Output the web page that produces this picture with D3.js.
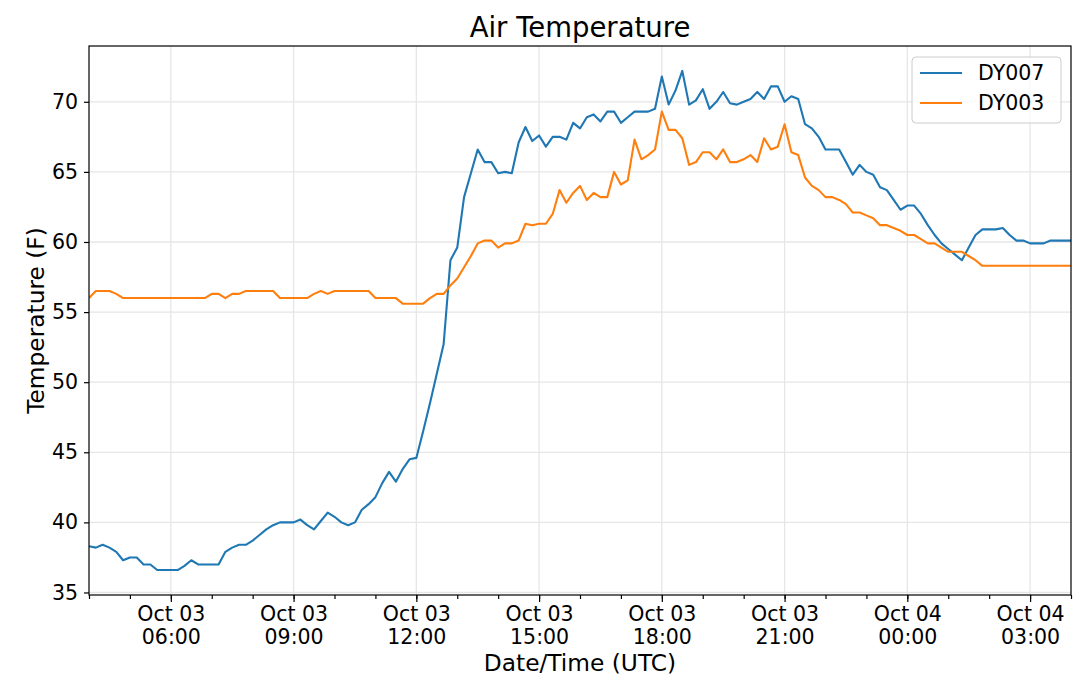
<!DOCTYPE html>
<html>
<head>
<meta charset="utf-8">
<script src="https://cdn.jsdelivr.net/npm/d3@7"></script>
<style>
  body { margin: 0; background: #fff; }
  text { font-family: "DejaVu Sans", sans-serif; fill: #000; }
</style>
</head>
<body>
<div id="chart"></div>
<script>
/* CONSTANTS AND GLOBALS */
const width = 1080,
  height = 694,
  margin = { top: 46, bottom: 99, left: 89, right: 9 };

// readings every 10 minutes, starting Oct 03 04:00 UTC
const startTime = new Date(Date.UTC(2019, 9, 3, 4, 0));
const stepMinutes = 10;

const seriesNames = ["DY007", "DY003"];
const seriesColors = ["#1f77b4", "#ff7f0e"];

const dy007 = [
  38.3, 38.2, 38.4, 38.2, 37.9, 37.3, 37.5, 37.5, 37.0, 37.0,
  36.6, 36.6, 36.6, 36.6, 36.9, 37.3, 37.0, 37.0, 37.0, 37.0,
  37.9, 38.2, 38.4, 38.4, 38.7, 39.1, 39.5, 39.8, 40.0, 40.0,
  40.0, 40.2, 39.8, 39.5, 40.1, 40.7, 40.4, 40.0, 39.8, 40.0,
  40.9, 41.3, 41.8, 42.8, 43.6, 42.9, 43.8, 44.5, 44.6, 46.5,
  48.5, 50.6, 52.7, 58.7, 59.6, 63.2, 64.9, 66.6, 65.7, 65.7,
  64.9, 65.0, 64.9, 67.1, 68.2, 67.2, 67.6, 66.8, 67.5, 67.5,
  67.3, 68.5, 68.1, 68.9, 69.1, 68.6, 69.3, 69.3, 68.5, 68.9,
  69.3, 69.3, 69.3, 69.5, 71.8, 69.8, 70.8, 72.2, 69.8, 70.1,
  70.9, 69.5, 70.0, 70.7, 69.9, 69.8, 70.0, 70.2, 70.7, 70.2,
  71.1, 71.1, 70.0, 70.4, 70.2, 68.4, 68.1, 67.5, 66.6, 66.6,
  66.6, 65.7, 64.8, 65.5, 65.0, 64.8, 63.9, 63.7, 63.0, 62.3,
  62.6, 62.6, 62.0, 61.2, 60.5, 59.9, 59.5, 59.1, 58.7, 59.6,
  60.5, 60.9, 60.9, 60.9, 61.0, 60.5, 60.1, 60.1, 59.9, 59.9,
  59.9, 60.1, 60.1, 60.1, 60.1
];

const dy003 = [
  56.0, 56.5, 56.5, 56.5, 56.3, 56.0, 56.0, 56.0, 56.0, 56.0,
  56.0, 56.0, 56.0, 56.0, 56.0, 56.0, 56.0, 56.0, 56.3, 56.3,
  56.0, 56.3, 56.3, 56.5, 56.5, 56.5, 56.5, 56.5, 56.0, 56.0,
  56.0, 56.0, 56.0, 56.3, 56.5, 56.3, 56.5, 56.5, 56.5, 56.5,
  56.5, 56.5, 56.0, 56.0, 56.0, 56.0, 55.6, 55.6, 55.6, 55.6,
  56.0, 56.3, 56.3, 56.9, 57.4, 58.2, 59.0, 59.9, 60.1, 60.1,
  59.6, 59.9, 59.9, 60.1, 61.3, 61.2, 61.3, 61.3, 62.0, 63.7,
  62.8, 63.5, 64.0, 63.0, 63.5, 63.2, 63.2, 65.0, 64.1, 64.4,
  67.3, 65.9, 66.2, 66.6, 69.3, 68.0, 68.0, 67.4, 65.5, 65.7,
  66.4, 66.4, 65.9, 66.6, 65.7, 65.7, 65.9, 66.2, 65.7, 67.4,
  66.6, 66.8, 68.4, 66.4, 66.2, 64.6, 64.0, 63.7, 63.2, 63.2,
  63.0, 62.7, 62.1, 62.1, 61.9, 61.7, 61.2, 61.2, 61.0, 60.8,
  60.5, 60.5, 60.2, 59.9, 59.9, 59.6, 59.3, 59.3, 59.3, 59.0,
  58.7, 58.3, 58.3, 58.3, 58.3, 58.3, 58.3, 58.3, 58.3, 58.3,
  58.3, 58.3, 58.3, 58.3, 58.3
];

const yTickValues = [35, 40, 45, 50, 55, 60, 65, 70];

/* BUILD SERIES */
const timeAt = i => new Date(startTime.getTime() + i * stepMinutes * 60000);
const series = [dy007, dy003].map((vals, k) => ({
  name: seriesNames[k],
  color: seriesColors[k],
  values: vals.map((v, i) => ({ time: timeAt(i), value: v }))
}));

/* SCALES */
const xScale = d3
  .scaleUtc()
  .domain([startTime, timeAt(dy007.length - 1)])
  .range([margin.left, width - margin.right]);

const allVals = dy007.concat(dy003);
const [lo, hi] = d3.extent(allVals);
const pad = (hi - lo) * 0.05;
const yScale = d3
  .scaleLinear()
  .domain([lo - pad, hi + pad])
  .range([height - margin.bottom, margin.top]);

/* SVG */
const svg = d3
  .select("#chart")
  .append("svg")
  .attr("width", width)
  .attr("height", height);

const plotW = width - margin.left - margin.right;
const plotH = height - margin.top - margin.bottom;

// grid
const majorTicks = xScale.ticks(d3.utcHour.every(3));
svg.append("g")
  .selectAll("line")
  .data(majorTicks)
  .join("line")
  .attr("x1", d => xScale(d))
  .attr("x2", d => xScale(d))
  .attr("y1", margin.top)
  .attr("y2", height - margin.bottom)
  .attr("stroke", "#e6e6e6")
  .attr("stroke-width", 1.3);

svg.append("g")
  .selectAll("line")
  .data(yTickValues)
  .join("line")
  .attr("x1", margin.left)
  .attr("x2", width - margin.right)
  .attr("y1", d => yScale(d))
  .attr("y2", d => yScale(d))
  .attr("stroke", "#e6e6e6")
  .attr("stroke-width", 1.3);

// lines
const line = d3.line()
  .x(d => xScale(d.time))
  .y(d => yScale(d.value));

svg.append("defs").append("clipPath")
  .attr("id", "clip")
  .append("rect")
  .attr("x", margin.left)
  .attr("y", margin.top)
  .attr("width", plotW)
  .attr("height", plotH);

svg.append("g")
  .attr("clip-path", "url(#clip)")
  .selectAll("path")
  .data(series)
  .join("path")
  .attr("fill", "none")
  .attr("stroke", d => d.color)
  .attr("stroke-width", 2.1)
  .attr("stroke-linejoin", "round")
  .attr("d", d => line(d.values));

// x axis: minor ticks every hour, major every 3 hours
const xMinor = d3.axisBottom(xScale)
  .ticks(d3.utcHour.every(1))
  .tickSize(4)
  .tickFormat("");
svg.append("g")
  .attr("transform", `translate(0,${height - margin.bottom})`)
  .call(xMinor)
  .call(g => g.select(".domain").remove())
  .call(g => g.selectAll("line").attr("stroke-width", 1.2));

const xAxis = d3.axisBottom(xScale)
  .tickValues(majorTicks)
  .tickSize(7)
  .tickFormat("");
const xg = svg.append("g")
  .attr("transform", `translate(0,${height - margin.bottom})`)
  .call(xAxis)
  .call(g => g.select(".domain").remove())
  .call(g => g.selectAll("line").attr("stroke-width", 1.2));

const fmtDay = d3.utcFormat("%b %d");
const fmtHour = d3.utcFormat("%H:%M");
xg.selectAll(".tick")
  .append("text")
  .attr("text-anchor", "middle")
  .attr("font-size", 20.5)
  .style("fill", "#000")
  .call(t => t.append("tspan").attr("x", 0).attr("y", 26).text(d => fmtDay(d)))
  .call(t => t.append("tspan").attr("x", 0).attr("y", 49).text(d => fmtHour(d)));

// y axis
const yAxis = d3.axisLeft(yScale)
  .tickValues(yTickValues)
  .tickSize(5)
  .tickPadding(6);
svg.append("g")
  .attr("transform", `translate(${margin.left},0)`)
  .call(yAxis)
  .call(g => g.select(".domain").remove())
  .call(g => g.selectAll("line").attr("stroke-width", 1.2))
  .call(g => g.selectAll("text").attr("font-size", 20.5).style("fill", "#000"));

// frame
svg.append("rect")
  .attr("x", margin.left)
  .attr("y", margin.top)
  .attr("width", plotW)
  .attr("height", plotH)
  .attr("fill", "none")
  .attr("stroke", "#000")
  .attr("stroke-width", 1.2);

// title and labels
svg.append("text")
  .attr("x", margin.left + plotW / 2)
  .attr("y", 37)
  .attr("text-anchor", "middle")
  .attr("font-size", 27.5)
  .text("Air Temperature");

svg.append("text")
  .attr("x", margin.left + plotW / 2)
  .attr("y", 671)
  .attr("text-anchor", "middle")
  .attr("font-size", 23.3)
  .text("Date/Time (UTC)");

svg.append("text")
  .attr("transform", `translate(44,${margin.top + plotH / 2}) rotate(-90)`)
  .attr("text-anchor", "middle")
  .attr("font-size", 23.3)
  .text("Temperature (F)");

// legend
const legend = svg.append("g").attr("transform", "translate(912,57)");
legend.append("rect")
  .attr("width", 149)
  .attr("height", 66)
  .attr("rx", 4)
  .attr("fill", "#fff")
  .attr("fill-opacity", 0.8)
  .attr("stroke", "#cccccc")
  .attr("stroke-width", 1);

const item = legend.selectAll("g.item")
  .data(series)
  .join("g")
  .attr("class", "item")
  .attr("transform", (d, i) => `translate(0,${16 + i * 30})`);
item.append("line")
  .attr("x1", 8)
  .attr("x2", 50)
  .attr("stroke", d => d.color)
  .attr("stroke-width", 2.1);
item.append("text")
  .attr("x", 66)
  .attr("dy", "0.36em")
  .attr("font-size", 20.5)
  .text(d => d.name);
</script>
</body>
</html>
